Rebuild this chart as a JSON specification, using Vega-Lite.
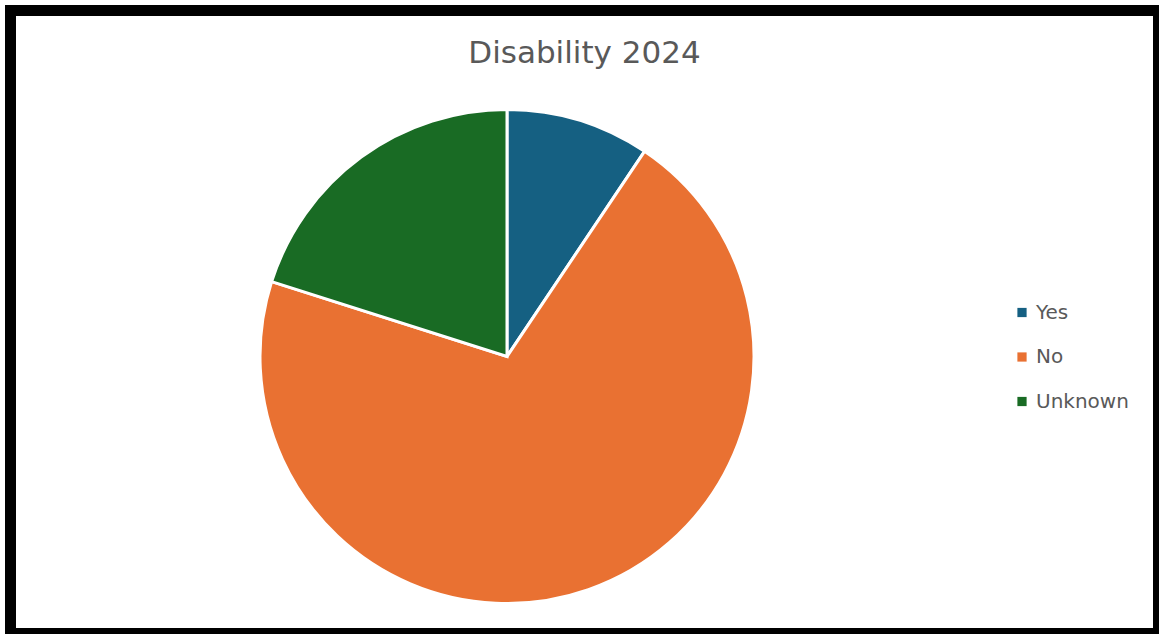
{
  "$schema": "https://vega.github.io/schema/vega-lite/v6.json",
  "autosize": {"type": "none"},
  "width": 1148,
  "height": 623,
  "padding": {"left": 10.5, "top": 10.5, "right": 0, "bottom": 0},
  "background": "white",
  "config": {
    "view": {"stroke": null},
    "font": "DejaVu Sans"
  },
  "title": {
    "text": "Disability 2024",
    "anchor": "middle",
    "frame": "group",
    "offset": -65,
    "fontSize": 31,
    "font": "DejaVu Sans",
    "fontWeight": "normal",
    "color": "#595959"
  },
  "layer": [
    {
      "data": {"values": [{"frame": 1}]},
      "mark": {"type": "rect", "fill": null, "stroke": "black", "strokeWidth": 11},
      "encoding": {
        "x": {"value": 0},
        "x2": {"value": "width"},
        "y": {"value": 0},
        "y2": {"value": "height"}
      }
    },
    {
      "data": {
        "values": [
          {"category": "Yes", "value": 9.4, "k": 1},
          {"category": "No", "value": 70.5, "k": 2},
          {"category": "Unknown", "value": 20.1, "k": 3}
        ]
      },
      "mark": {"type": "arc", "outerRadius": 247, "stroke": "white", "strokeWidth": 3, "x": 496.5, "y": 346},
      "encoding": {
        "theta": {"field": "value", "type": "quantitative", "stack": true},
        "order": {"field": "k", "type": "ordinal"},
        "color": {
          "field": "category",
          "type": "nominal",
          "scale": {"domain": ["Yes", "No", "Unknown"], "range": ["#156082", "#E97132", "#196B24"]},
          "legend": {
            "title": null,
            "orient": "none",
            "legendX": 1001.5,
            "legendY": 292,
            "padding": 0,
            "symbolType": "square",
            "symbolSize": 85,
            "symbolStrokeWidth": 0,
            "labelFontSize": 20,
            "labelFont": "DejaVu Sans",
            "labelColor": "#595959",
            "labelOffset": 4,
            "rowPadding": 24.5
          }
        }
      }
    }
  ]
}
